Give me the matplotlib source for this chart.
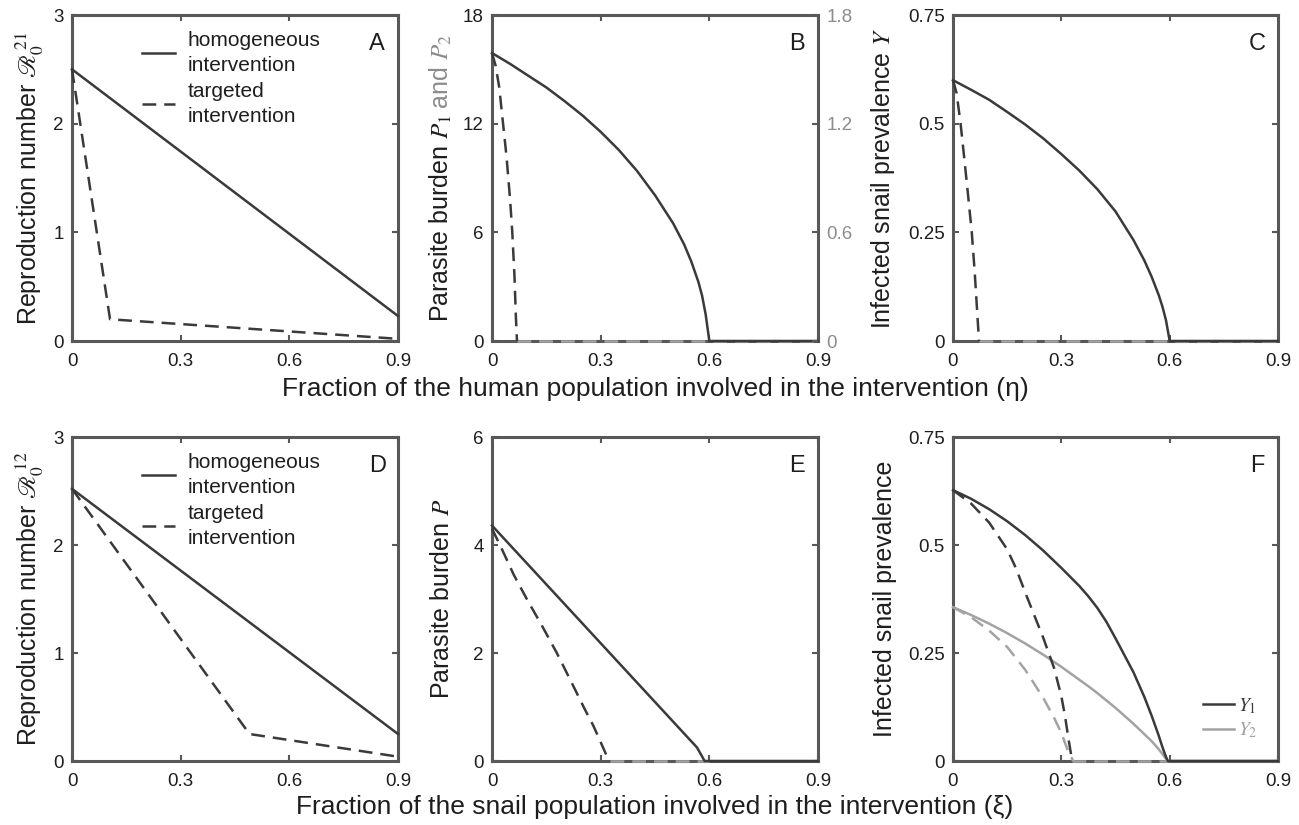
import matplotlib
matplotlib.use("Agg")
from matplotlib import pyplot as plt
from matplotlib.lines import Line2D

plt.rcParams['font.family'] = ['Liberation Sans', 'DejaVu Sans']
plt.rcParams['mathtext.fontset'] = 'stix'

DARK = '#3a3a3a'
GREY = '#a3a3a3'
SPINE = '#585858'
TXT = '#1e1e1e'

# ---- data ----
# panel A: R0^21 vs eta
eta_hom_A = [0.0, 0.9]
r0_hom_A = [2.5, 0.23]
eta_tar_A = [0.0, 0.105, 0.9]
r0_tar_A = [2.5, 0.2, 0.02]

# panel B: parasite burden P1 vs eta
eta_hom_B = [0.0, 0.05, 0.1, 0.15, 0.2, 0.25, 0.3, 0.35, 0.4, 0.45, 0.5, 0.53, 0.55, 0.57, 0.58, 0.59, 0.6, 0.9]
p1_hom_B = [15.9, 15.3, 14.65, 14.0, 13.25, 12.45, 11.55, 10.55, 9.4, 8.05, 6.5, 5.35, 4.4, 3.25, 2.5, 1.45, 0.0, 0.0]
eta_tar_B = [0.0, 0.01, 0.02, 0.03, 0.04, 0.05, 0.056, 0.062, 0.066, 0.069]
p1_tar_B = [15.9, 15.2, 14.0, 12.1, 10.2, 7.8, 6.0, 3.6, 1.3, 0.0]
eta_tail_B = [0.069, 0.9]
p_tail_B = [0.0, 0.0]

# panel C: infected snail prevalence Y vs eta
eta_hom_C = [0.0, 0.05, 0.1, 0.15, 0.2, 0.25, 0.3, 0.35, 0.4, 0.45, 0.5, 0.53, 0.55, 0.57, 0.58, 0.59, 0.6, 0.9]
y_hom_C = [0.6, 0.578, 0.555, 0.527, 0.498, 0.466, 0.43, 0.392, 0.349, 0.298, 0.232, 0.185, 0.148, 0.105, 0.079, 0.047, 0.0, 0.0]
eta_tar_C = [0.0, 0.01, 0.021, 0.03, 0.04, 0.052, 0.06, 0.066, 0.072]
y_tar_C = [0.6, 0.57, 0.5, 0.43, 0.35, 0.25, 0.16, 0.08, 0.0]
eta_tail_C = [0.072, 0.9]
y_tail_C = [0.0, 0.0]

# panel D: R0^12 vs xi
xi_hom_D = [0.0, 0.9]
r0_hom_D = [2.52, 0.25]
xi_tar_D = [0.0, 0.49, 0.9]
r0_tar_D = [2.52, 0.25, 0.04]

# panel E: parasite burden P vs xi
xi_hom_E = [0.0, 0.566, 0.587, 0.9]
p_hom_E = [4.36, 0.25, 0.0, 0.0]
xi_tar_E = [0.0, 0.022, 0.06, 0.096, 0.14, 0.179, 0.22, 0.253, 0.28, 0.30, 0.315, 0.326]
p_tar_E = [4.3, 4.0, 3.45, 3.0, 2.48, 2.0, 1.45, 1.0, 0.65, 0.35, 0.12, 0.0]
xi_tail_E = [0.326, 0.6]
p_tail_E = [0.0, 0.0]

# panel F: Y1, Y2 vs xi
xi_hom_F = [0.0, 0.05, 0.1, 0.15, 0.2, 0.25, 0.3, 0.35, 0.375, 0.4, 0.425, 0.45, 0.5, 0.53, 0.55, 0.57, 0.58, 0.59, 0.595, 0.9]
y1_hom_F = [0.627, 0.607, 0.583, 0.555, 0.523, 0.487, 0.447, 0.405, 0.381, 0.354, 0.322, 0.284, 0.205, 0.148, 0.105, 0.058, 0.032, 0.009, 0.0, 0.0]
y2_hom_F = [0.356, 0.338, 0.318, 0.296, 0.272, 0.246, 0.218, 0.188, 0.173, 0.157, 0.14, 0.123, 0.086, 0.062, 0.046, 0.027, 0.016, 0.005, 0.0, 0.0]
xi_tar_F = [0.0, 0.05, 0.1, 0.15, 0.175, 0.2, 0.25, 0.28, 0.30, 0.31, 0.32, 0.33]
y1_tar_F = [0.627, 0.596, 0.552, 0.49, 0.445, 0.39, 0.285, 0.215, 0.15, 0.105, 0.05, 0.0]
xi_tar2_F = [0.0, 0.05, 0.1, 0.15, 0.2, 0.25, 0.28, 0.30, 0.32, 0.333]
y2_tar_F = [0.356, 0.333, 0.302, 0.264, 0.211, 0.146, 0.1, 0.065, 0.02, 0.0]
xi_tail_F = [0.33, 0.595]
y_tail_F = [0.0, 0.0]

x_ticks = [0, 0.3, 0.6, 0.9]
x_ticklabels = ['0', '0.3', '0.6', '0.9']

fig = plt.figure(figsize=(12.99, 8.25), dpi=100)

W, H = 1299.0, 825.0
def rect(left, top, right, bottom):
    return [left / W, 1 - bottom / H, (right - left) / W, (bottom - top) / H]

axA = fig.add_axes(rect(72, 15, 398, 341))
axB = fig.add_axes(rect(492, 15, 818, 341))
axC = fig.add_axes(rect(953, 15, 1278, 341))
axD = fig.add_axes(rect(72, 437, 398, 761))
axE = fig.add_axes(rect(492, 437, 818, 761))
axF = fig.add_axes(rect(953, 437, 1278, 761))

DASH = (5.5, 3.2)
TICKSIZE = 13.5

def style(ax, yticks, yticklabels, letter):
    ax.set_xlim(0, 0.9)
    ax.set_ylim(yticks[0], yticks[-1])
    ax.set_xticks(x_ticks)
    ax.set_xticklabels(x_ticklabels)
    ax.set_yticks(yticks)
    ax.set_yticklabels(yticklabels)
    for s in ax.spines.values():
        s.set_color(SPINE)
        s.set_linewidth(2.2)
    ax.tick_params(direction='in', top=True, right=True, length=4, width=1.5,
                   color=SPINE, labelsize=TICKSIZE, labelcolor=TXT, pad=6)
    ax.tick_params(axis='x', pad=9)
    ax.text(0.936, 0.91, letter, transform=ax.transAxes, ha='center', va='center',
            fontsize=17, color=TXT)

def line(ax, x, y, color=DARK, dashed=False):
    ln, = ax.plot(x, y, color=color, lw=1.8, clip_on=False, zorder=5)
    if dashed:
        ln.set_dashes(DASH)
    return ln

def r0_legend(ax, handles):
    leg = ax.legend(handles, ['homogeneous\nintervention', 'targeted\nintervention'], loc='upper left',
                    bbox_to_anchor=(0.17, 0.995), frameon=False, fontsize=15, handlelength=1.6,
                    labelspacing=0.35, handletextpad=0.6, borderaxespad=0.3)
    for t in leg.get_texts():
        t.set_linespacing(1.38)
        t.set_color(TXT)
    return leg

hA = [Line2D([], [], color=DARK, lw=1.8), Line2D([], [], color=DARK, lw=1.8, dashes=DASH)]

# A
line(axA, eta_hom_A, r0_hom_A)
line(axA, eta_tar_A, r0_tar_A, dashed=True)
style(axA, [0, 1, 2, 3], ['0', '1', '2', '3'], 'A')
axA.set_ylabel(r'Reproduction number $\mathscr{R}_{0}^{\,\mathrm{21}}$', fontsize=18, color=TXT, labelpad=6)
r0_legend(axA, hA)

# B
line(axB, eta_tail_B, p_tail_B, color=GREY, dashed=True)
line(axB, eta_hom_B, p1_hom_B)
line(axB, eta_tar_B, p1_tar_B, dashed=True)
style(axB, [0, 6, 12, 18], ['0', '6', '12', '18'], 'B')
axB.tick_params(right=False)
axB2 = axB.twinx()
axB2.set_ylim(0, 1.8)
axB2.set_yticks([0, 0.6, 1.2, 1.8])
axB2.set_yticklabels(['0', '0.6', '1.2', '1.8'])
axB2.tick_params(direction='in', length=4, width=1.5, color=SPINE, labelsize=TICKSIZE,
                 labelcolor='#8c8c8c', pad=6)
for s in axB2.spines.values():
    s.set_visible(False)

# C
line(axC, eta_tail_C, y_tail_C, color=GREY, dashed=True)
line(axC, eta_hom_C, y_hom_C)
line(axC, eta_tar_C, y_tar_C, dashed=True)
style(axC, [0, 0.25, 0.5, 0.75], ['0', '0.25', '0.5', '0.75'], 'C')
axC.set_ylabel(r'Infected snail prevalence $Y$', fontsize=18, color=TXT, labelpad=8)

# D
line(axD, xi_hom_D, r0_hom_D)
line(axD, xi_tar_D, r0_tar_D, dashed=True)
style(axD, [0, 1, 2, 3], ['0', '1', '2', '3'], 'D')
axD.set_ylabel(r'Reproduction number $\mathscr{R}_{0}^{\,\mathrm{12}}$', fontsize=18, color=TXT, labelpad=6)
r0_legend(axD, hA)

# E
line(axE, xi_tail_E, p_tail_E, color=GREY, dashed=True)
line(axE, xi_hom_E, p_hom_E)
line(axE, xi_tar_E, p_tar_E, dashed=True)
style(axE, [0, 2, 4, 6], ['0', '2', '4', '6'], 'E')
axE.set_ylabel(r'Parasite burden $P$', fontsize=18, color=TXT, labelpad=14)

# F
line(axF, xi_tail_F, y_tail_F, color=GREY, dashed=True)
line(axF, xi_hom_F, y2_hom_F, color=GREY)
line(axF, xi_tar2_F, y2_tar_F, color=GREY, dashed=True)
line(axF, xi_hom_F, y1_hom_F)
line(axF, xi_tar_F, y1_tar_F, dashed=True)
style(axF, [0, 0.25, 0.5, 0.75], ['0', '0.25', '0.5', '0.75'], 'F')
axF.set_ylabel('Infected snail prevalence', fontsize=18, color=TXT, labelpad=8)
hF = [Line2D([], [], color=DARK, lw=1.8), Line2D([], [], color=GREY, lw=1.8)]
legF = axF.legend(hF, [r'$Y_{\mathrm{1}}$', r'$Y_{\mathrm{2}}$'], loc='lower right',
                  bbox_to_anchor=(0.99, 0.01), frameon=False, fontsize=14, handlelength=1.6,
                  labelspacing=0.25, handletextpad=0.2)
legF.get_texts()[0].set_color(DARK)
legF.get_texts()[1].set_color(GREY)

# two-coloured y label for panel B
fig.canvas.draw()
r = fig.canvas.get_renderer()
xlab = -0.158
t1 = axB.text(xlab, 0, r'Parasite burden $P_{\mathrm{1}}$', rotation=90, transform=axB.transAxes,
              ha='center', va='bottom', fontsize=18, color=TXT)
t2 = axB.text(xlab, 0, r' and $P_{\mathrm{2}}$', rotation=90, transform=axB.transAxes,
              ha='center', va='bottom', fontsize=18, color='#8c8c8c')
h1 = t1.get_window_extent(r).height
h2 = t2.get_window_extent(r).height
axh = axB.get_window_extent(r).height
y0 = 0.5 - (h1 + h2) / axh / 2
t1.set_y(y0)
t2.set_y(y0 + h1 / axh)

fig.text(655 / W, 1 - 389 / H, 'Fraction of the human population involved in the intervention (η)',
         ha='center', va='center', fontsize=19, color=TXT)
fig.text(655 / W, 1 - 807 / H, 'Fraction of the snail population involved in the intervention (ξ)',
         ha='center', va='center', fontsize=19, color=TXT)

fig.savefig('out.png', dpi=100)
